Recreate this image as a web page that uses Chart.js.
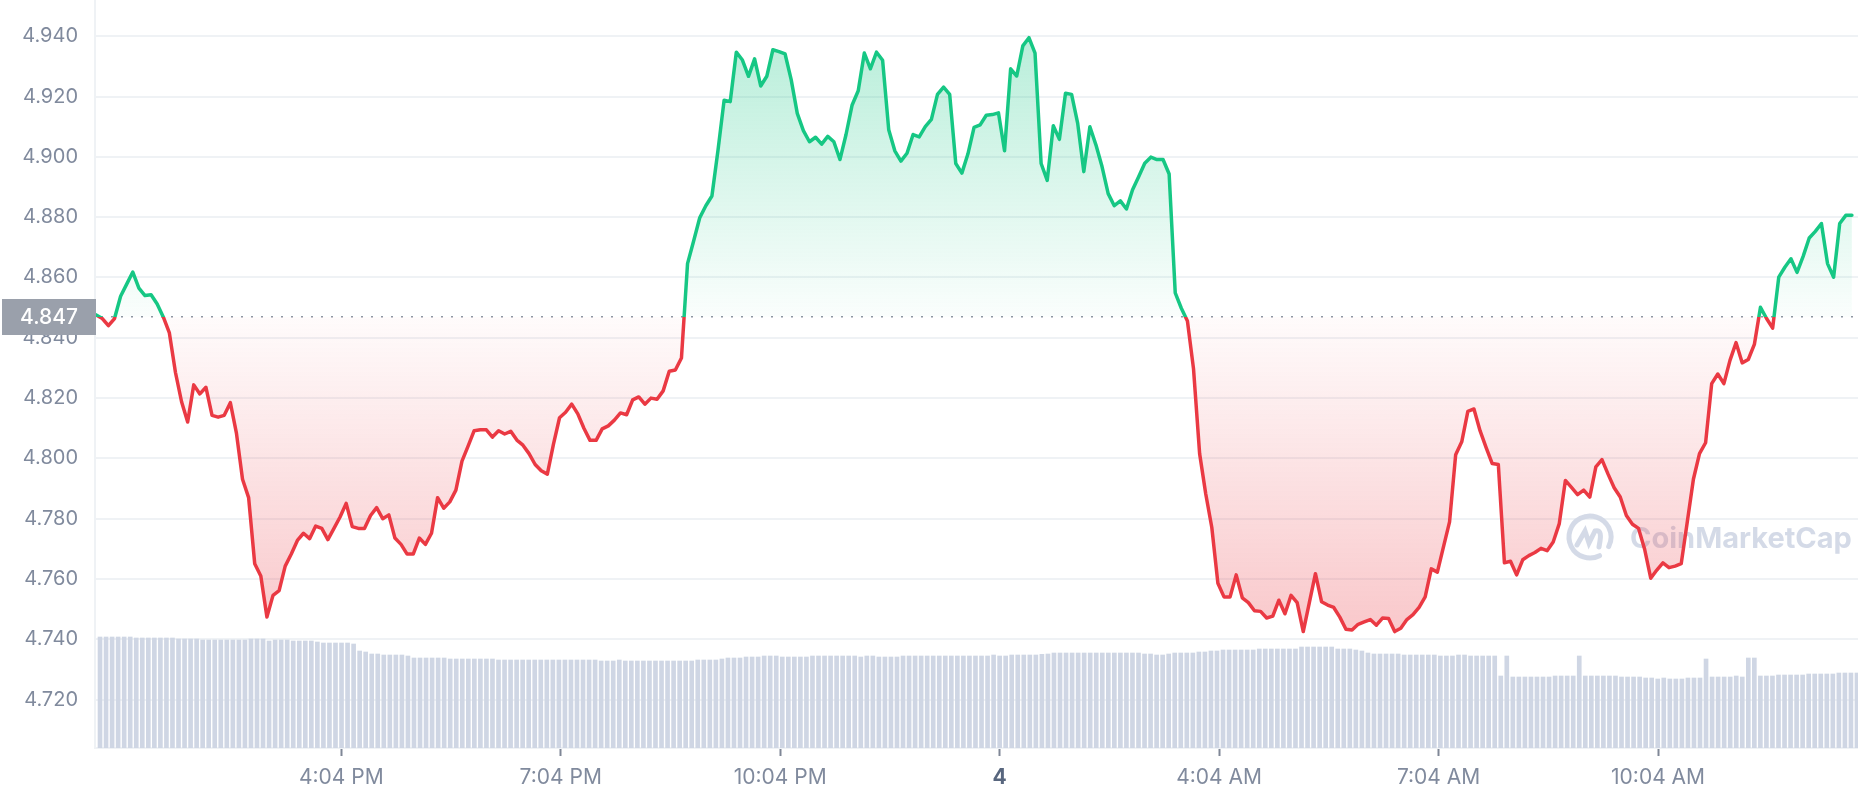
<!DOCTYPE html>
<html><head><meta charset="utf-8">
<script src="https://cdn.jsdelivr.net/npm/chart.js@4.4.1/dist/chart.umd.min.js"></script>
<style>html,body{margin:0;padding:0;background:#fff;overflow:hidden}canvas{display:block}</style>
</head><body>
<canvas id="c" width="1858" height="800"></canvas>
<script>
// ---- data ----
const startMinute = 763;   // minutes after midnight of day 3 (12:43 PM)
const stepMinutes = 5;
const prices = [
4.8476,4.8464,4.8440,4.8464,4.8538,4.8578,4.8618,4.8565,4.8540,4.8543,
4.8512,4.8469,4.8416,4.8285,4.8188,4.8121,4.8244,4.8214,4.8236,4.8143,
4.8137,4.8143,4.8185,4.8084,4.7931,4.7870,4.7651,4.7610,4.7474,4.7546,
4.7562,4.7643,4.7683,4.7728,4.7752,4.7734,4.7776,4.7768,4.7731,4.7768,
4.7806,4.7851,4.7774,4.7768,4.7768,4.7811,4.7837,4.7800,4.7813,4.7736,
4.7715,4.7683,4.7683,4.7736,4.7715,4.7752,4.7870,4.7835,4.7856,4.7895,
4.7991,4.8041,4.8092,4.8095,4.8095,4.8071,4.8092,4.8081,4.8090,4.8061,
4.8044,4.8016,4.7980,4.7959,4.7948,4.8047,4.8135,4.8153,4.8180,4.8148,
4.8100,4.8060,4.8060,4.8098,4.8108,4.8127,4.8151,4.8145,4.8194,4.8204,
4.8180,4.8200,4.8196,4.8224,4.8289,4.8293,4.8333,4.8646,4.8721,4.8798,
4.8838,4.8870,4.9023,4.9188,4.9183,4.9347,4.9321,4.9267,4.9325,4.9235,
4.9267,4.9355,4.9349,4.9341,4.9256,4.9144,4.9087,4.9050,4.9065,4.9042,
4.9068,4.9050,4.8991,4.9074,4.9172,4.9219,4.9344,4.9292,4.9347,4.9320,
4.9090,4.9020,4.8986,4.9012,4.9074,4.9066,4.9100,4.9124,4.9207,4.9231,
4.9207,4.8978,4.8946,4.9010,4.9098,4.9106,4.9138,4.9140,4.9146,4.9020,
4.9292,4.9268,4.9368,4.9395,4.9344,4.8978,4.8922,4.9103,4.9058,4.9211,
4.9207,4.9111,4.8951,4.9100,4.9039,4.8967,4.8878,4.8838,4.8854,4.8827,
4.8891,4.8934,4.8979,4.8999,4.8991,4.8991,4.8943,4.8549,4.8498,4.8456,
4.8297,4.8016,4.7883,4.7771,4.7586,4.7541,4.7541,4.7614,4.7538,4.7522,
4.7495,4.7493,4.7471,4.7477,4.7530,4.7485,4.7546,4.7522,4.7426,4.7522,
4.7618,4.7525,4.7514,4.7506,4.7474,4.7434,4.7431,4.7450,4.7458,4.7466,
4.7447,4.7471,4.7469,4.7426,4.7437,4.7466,4.7482,4.7506,4.7541,4.7634,
4.7623,4.7707,4.7790,4.8012,4.8055,4.8156,4.8164,4.8092,4.8036,4.7983,
4.7980,4.7654,4.7659,4.7614,4.7664,4.7678,4.7688,4.7702,4.7694,4.7723,
4.7784,4.7927,4.7904,4.7880,4.7895,4.7872,4.7972,4.7996,4.7948,4.7903,
4.7872,4.7811,4.7782,4.7768,4.7699,4.7603,4.7630,4.7654,4.7638,4.7643,
4.7651,4.7790,4.7931,4.8016,4.8052,4.8248,4.8280,4.8248,4.8325,4.8384,
4.8317,4.8328,4.8378,4.8501,4.8464,4.8432,4.8601,4.8634,4.8662,4.8617,
4.8670,4.8731,4.8753,4.8779,4.8646,4.8601,4.8779,4.8806,4.8806
];
const volumes = [
333,333,333,333,333,333,330,330,330,330,330,330,330,327,327,327,327,324,324,324,
324,324,324,324,324,327,327,327,321,324,324,324,321,321,321,321,318,315,315,315,
315,315,312,291,288,282,282,279,279,279,279,276,270,270,270,270,270,270,267,267,
267,267,267,267,267,267,264,264,264,264,264,264,264,264,264,264,264,264,264,264,
264,264,264,261,261,261,264,261,261,261,261,261,261,261,261,261,261,261,261,264,
264,264,264,267,270,270,270,273,273,273,276,276,276,273,273,273,273,273,276,276,
276,276,276,276,276,276,273,276,276,273,273,273,273,276,276,276,276,276,276,276,
276,276,276,276,276,276,276,276,279,276,276,279,279,279,279,279,281,282,285,285,
285,285,285,285,285,285,285,285,285,285,285,285,285,282,282,279,279,282,285,285,
285,285,288,288,291,291,294,294,294,294,294,294,297,297,297,297,297,297,297,303,
303,303,303,303,303,297,297,297,294,291,285,282,282,282,282,282,279,279,279,279,
279,279,276,276,276,279,279,276,276,276,276,276,216,276,213,213,213,213,213,213,
213,216,216,216,216,276,216,216,216,216,216,216,213,213,213,213,210,210,207,210,
207,207,207,210,210,210,267,213,213,213,213,216,213,270,270,216,216,216,219,219,
219,219,219,222,222,222,222,222,225,225,225,225
];
const baselinePrice = 4.847;
const yTickValues = [4.72,4.74,4.76,4.78,4.80,4.82,4.84,4.86,4.88,4.90,4.92,4.94];
const yTickLabels = ['4.720','4.740','4.760','4.780','4.800','4.820','4.840','4.860','4.880','4.900','4.920','4.940'];
const xTickMinutes = [964,1144,1324,1504,1684,1864,2044];
const xTickLabels = ['4:04 PM','7:04 PM','10:04 PM','4','4:04 AM','7:04 AM','10:04 AM'];

// ---- styling ----
const GREEN = '#16c784', RED = '#ea3943';
const FONT = 'Inter, "Noto Sans", sans-serif';

let gradCache = {key:null};
function gradients(chart){
  const {ctx, chartArea, scales} = chart;
  if (!chartArea || !scales.y) return null;
  const ys = scales.y;
  const top = ys.getPixelForValue(Math.max(...prices));
  const bot = ys.getPixelForValue(Math.min(...prices));
  const base = ys.getPixelForValue(baselinePrice);
  const key = [top,bot,base].join(',');
  if (gradCache.key === key) return gradCache;
  const f = Math.min(1, Math.max(0, (base - top) / (bot - top)));
  const line = ctx.createLinearGradient(0, top, 0, bot);
  line.addColorStop(0, GREEN); line.addColorStop(f, GREEN);
  line.addColorStop(f, RED); line.addColorStop(1, RED);
  const fill = ctx.createLinearGradient(0, top, 0, bot);
  fill.addColorStop(0, 'rgba(22,199,132,0.30)');
  fill.addColorStop(f, 'rgba(22,199,132,0.02)');
  fill.addColorStop(f, 'rgba(234,57,67,0.02)');
  fill.addColorStop(1, 'rgba(234,57,67,0.28)');
  gradCache = {key, line, fill};
  return gradCache;
}

const decor = {
  id: 'decor',
  beforeDatasetsDraw(chart){
    const {ctx, chartArea, scales} = chart;
    // watermark
    ctx.save();
    ctx.globalAlpha = 0.9;
    ctx.strokeStyle = '#cfd6e4';
    ctx.fillStyle = '#cfd6e4';
    ctx.lineWidth = 5;
    ctx.lineCap = 'round';
    const cx = 1590, cy = 537, r = 21;
    ctx.beginPath();
    ctx.arc(cx, cy, r, Math.PI*0.35, Math.PI*2.15);
    ctx.stroke();
    ctx.beginPath();
    ctx.moveTo(cx-13, cy+8);
    ctx.lineTo(cx-5, cy-6);
    ctx.lineTo(cx-1, cy+6);
    ctx.lineTo(cx+5, cy-6);
    ctx.quadraticCurveTo(cx+12, cy-8, cx+10, cy+4);
    ctx.lineTo(cx+9, cy+10);
    ctx.stroke();
    ctx.font = 'bold 29px ' + FONT;
    ctx.textAlign = 'left';
    ctx.textBaseline = 'middle';
    ctx.fillText('CoinMarketCap', 1630, 539);
    ctx.restore();
    // dotted baseline
    const y = scales.y.getPixelForValue(baselinePrice);
    ctx.save();
    ctx.strokeStyle = '#8f96a3';
    ctx.lineWidth = 1.5;
    ctx.setLineDash([2, 8]);
    ctx.beginPath();
    ctx.moveTo(chartArea.left + 6, y);
    ctx.lineTo(chartArea.right, y);
    ctx.stroke();
    ctx.restore();
  },
  afterDraw(chart){
    const {ctx, scales} = chart;
    const y = scales.y.getPixelForValue(baselinePrice);
    ctx.save();
    ctx.fillStyle = '#9aa0ab';
    ctx.fillRect(2, Math.round(y) - 18, 94, 36);
    ctx.fillStyle = '#ffffff';
    ctx.font = '500 21px ' + FONT;
    ctx.textAlign = 'right';
    ctx.textBaseline = 'middle';
    ctx.fillText(baselinePrice.toFixed(3), 78, y + 1);
    ctx.restore();
  }
};

new Chart(document.getElementById('c'), {
  type: 'line',
  data: {
    datasets: [
      {
        type: 'line',
        data: prices.map((p, i) => ({x: startMinute + i * stepMinutes, y: p})),
        xAxisID: 'x', yAxisID: 'y',
        borderWidth: 3.5,
        pointRadius: 0,
        tension: 0,
        borderJoinStyle: 'round',
        borderCapStyle: 'round',
        borderColor: (c) => { const g = gradients(c.chart); return g ? g.line : GREEN; },
        backgroundColor: (c) => { const g = gradients(c.chart); return g ? g.fill : 'transparent'; },
        fill: {target: {value: baselinePrice}},
        order: 0
      },
      {
        type: 'bar',
        data: volumes,
        xAxisID: 'x2', yAxisID: 'y2',
        backgroundColor: '#cfd6e4',
        barThickness: 4,
        order: 1
      }
    ]
  },
  options: {
    responsive: false,
    animation: false,
    events: [],
    layout: {padding: {left: 0, right: 0, top: 0, bottom: 0}},
    plugins: {legend: {display: false}, tooltip: {enabled: false}},
    scales: {
      x: {
        type: 'linear',
        min: 762, max: 2208,
        afterBuildTicks: (axis) => { axis.ticks = xTickMinutes.map(v => ({value: v})); },
        afterFit: (axis) => { axis.paddingLeft = 0; axis.paddingRight = 0; axis.height = 52; },
        ticks: {
          autoSkip: false, maxRotation: 0, padding: 9,
          callback: (v, i) => xTickLabels[i],
          color: (c) => (c.index === 3) ? '#58667e' : '#808a9d',
          font: (c) => (c.index === 3) ? {family: FONT, size: 21, weight: 'bold'} : {family: FONT, size: 21}
        },
        grid: {drawOnChartArea: false, drawTicks: true, tickLength: 8, tickColor: '#7f8796', tickWidth: 2},
        border: {display: true, color: '#eff2f5', width: 2}
      },
      y: {
        type: 'linear',
        position: 'left',
        min: 4.704, max: 4.952,
        afterBuildTicks: (axis) => { axis.ticks = yTickValues.map(v => ({value: v})); },
        afterFit: (axis) => { axis.width = 95; axis.paddingTop = 0; axis.paddingBottom = 0; },
        ticks: {
          padding: 17,
          callback: (v, i) => yTickLabels[i],
          color: '#808a9d',
          font: {family: FONT, size: 20}
        },
        grid: {color: '#eff2f5', lineWidth: 2, drawTicks: false},
        border: {display: true, color: '#eff2f5', width: 2}
      },
      x2: {
        type: 'category',
        labels: volumes.map((_, k) => String(k)),
        display: false,
        offset: true,
        grid: {display: false}
      },
      y2: {
        type: 'linear',
        display: false,
        min: 0, max: 2244
      }
    }
  },
  plugins: [decor]
});
</script>
</body></html>
